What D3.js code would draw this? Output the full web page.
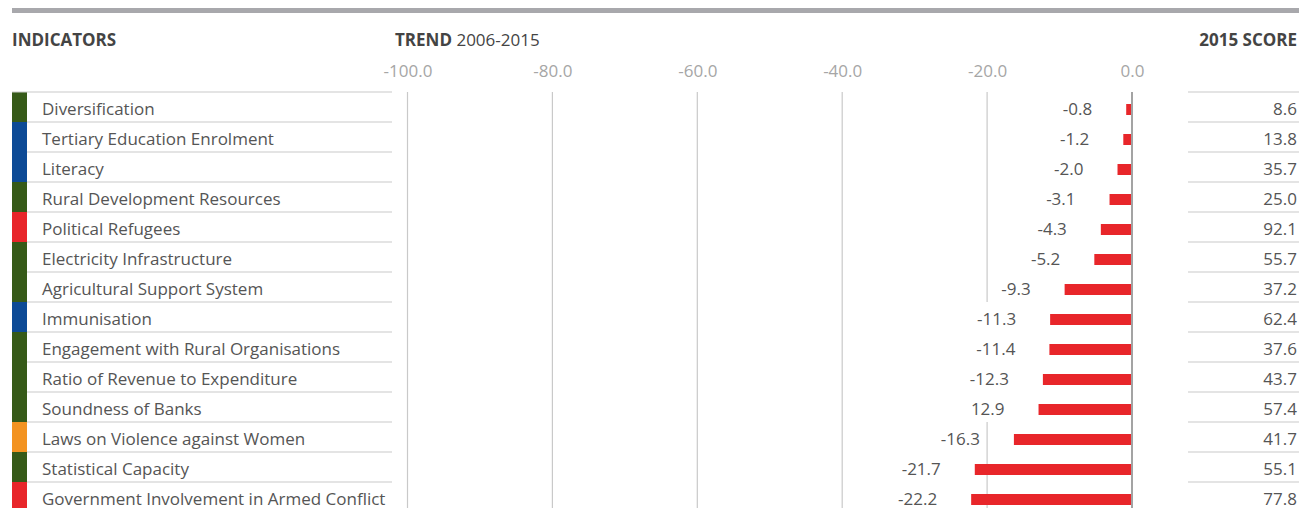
<!DOCTYPE html>
<html>
<head>
<meta charset="utf-8">
<script src="https://cdn.jsdelivr.net/npm/d3@7"></script>
<style>
  html, body { margin: 0; padding: 0; background: #fff; }
  svg { display: block; font-family: "Open Sans", sans-serif; }
</style>
</head>
<body>
<svg id="chart" width="1299" height="508"></svg>
<script>
// ---- data ----
const indicators = [
  "Diversification",
  "Tertiary Education Enrolment",
  "Literacy",
  "Rural Development Resources",
  "Political Refugees",
  "Electricity Infrastructure",
  "Agricultural Support System",
  "Immunisation",
  "Engagement with Rural Organisations",
  "Ratio of Revenue to Expenditure",
  "Soundness of Banks",
  "Laws on Violence against Women",
  "Statistical Capacity",
  "Government Involvement in Armed Conflict"
];
const categoryGroup = ["econ","human","human","econ","safety","econ","econ","human","econ","econ","econ","gender","econ","safety"];
const trendValues = [-0.8, -1.2, -2.0, -3.1, -4.3, -5.2, -9.3, -11.3, -11.4, -12.3, -12.9, -16.3, -21.7, -22.2];
const trendLabels = ["-0.8", "-1.2", "-2.0", "-3.1", "-4.3", "-5.2", "-9.3", "-11.3", "-11.4", "-12.3", "12.9", "-16.3", "-21.7", "-22.2"];
const scores2015 = ["8.6", "13.8", "35.7", "25.0", "92.1", "55.7", "37.2", "62.4", "37.6", "43.7", "57.4", "41.7", "55.1", "77.8"];
const tickValues = [-100, -80, -60, -40, -20, 0];
const tickLabels = ["-100.0", "-80.0", "-60.0", "-40.0", "-20.0", "0.0"];
const groupNames = ["econ", "human", "safety", "gender"];
const groupColors = ["#365a18", "#0c4a96", "#e8262a", "#f39321"];

// ---- layout ----
const svg = d3.select("#chart");
const W = 1299;
const rowTop = 92, rowH = 30;
const leftX0 = 12, stripW = 15, leftX1 = 392;
const rightX0 = 1188, rightX1 = 1299;
const textColor = "#555";
const lineColor = "#c9c9c9";
const fs = 17;

const x = d3.scaleLinear().domain([-100, 0]).range([407.5, 1132]);
const y = d3.scaleBand().domain(d3.range(indicators.length)).range([rowTop, rowTop + rowH * indicators.length]).padding(0);
const color = d3.scaleOrdinal().domain(groupNames).range(groupColors);

// top grey band
svg.append("rect").attr("x", leftX0).attr("y", 8).attr("width", W - leftX0).attr("height", 5).attr("fill", "#a8a8ac");

// headers
svg.append("text").attr("x", 12).attr("y", 46).attr("font-size", 17).attr("font-weight", 700)
  .attr("fill", "#444").text("INDICATORS");
const trendHead = svg.append("text").attr("x", 395).attr("y", 46).attr("font-size", 17).attr("fill", "#444");
trendHead.append("tspan").attr("font-weight", 700).text("TREND");
trendHead.append("tspan").text(" 2006-2015");
svg.append("text").attr("x", 1297).attr("y", 46).attr("font-size", 17).attr("font-weight", 700)
  .attr("fill", "#444").attr("text-anchor", "end").text("2015 SCORE");

// axis tick labels
const axis = d3.axisTop(x).tickValues(tickValues).tickSize(0).tickPadding(0)
  .tickFormat((d, i) => tickLabels[i]);
const axisG = svg.append("g").attr("transform", "translate(0,77)").call(axis);
axisG.select(".domain").remove();
axisG.selectAll("text").attr("font-size", 17).attr("fill", "#a6a6a6").attr("font-family", "Open Sans, sans-serif").attr("dy", 0);

// gridlines
const bottom = rowTop + rowH * indicators.length;
svg.append("g").selectAll("line").data(tickValues.filter(v => v !== 0)).join("line")
  .attr("x1", d => x(d)).attr("x2", d => x(d)).attr("y1", rowTop).attr("y2", bottom)
  .attr("stroke", lineColor).attr("stroke-width", 1.2);

// left column: strips, separators, labels
svg.append("g").selectAll("rect").data(indicators).join("rect")
  .attr("x", leftX0).attr("y", (d, i) => y(i)).attr("width", stripW).attr("height", y.bandwidth())
  .attr("fill", (d, i) => color(categoryGroup[i]));
svg.append("line").attr("x1", leftX0).attr("x2", leftX1).attr("y1", rowTop).attr("y2", rowTop).attr("stroke", lineColor).attr("stroke-width", 1.2);
svg.append("g").selectAll("line").data(indicators).join("line")
  .attr("x1", leftX0 + stripW).attr("x2", leftX1).attr("y1", (d, i) => y(i) + rowH).attr("y2", (d, i) => y(i) + rowH)
  .attr("stroke", lineColor).attr("stroke-width", 1.2);
svg.append("g").selectAll("text").data(indicators).join("text")
  .attr("x", 42).attr("y", (d, i) => y(i) + 22.5).attr("font-size", fs).attr("fill", textColor).text(d => d);

// right column: separators and scores
svg.append("line").attr("x1", rightX0).attr("x2", rightX1).attr("y1", rowTop).attr("y2", rowTop).attr("stroke", lineColor).attr("stroke-width", 1.2);
svg.append("g").selectAll("line").data(scores2015).join("line")
  .attr("x1", rightX0).attr("x2", rightX1).attr("y1", (d, i) => y(i) + rowH).attr("y2", (d, i) => y(i) + rowH)
  .attr("stroke", lineColor).attr("stroke-width", 1.2);
svg.append("g").selectAll("text").data(scores2015).join("text")
  .attr("x", 1297).attr("y", (d, i) => y(i) + 22.5).attr("text-anchor", "end").attr("font-size", fs).attr("fill", textColor).text(d => d);

// value labels with white backgrounds (mask the gridline behind them)
const labG = svg.append("g");
trendLabels.forEach((lab, i) => {
  const g = labG.append("g");
  const bg = g.append("rect").attr("fill", "#fff");
  const t = g.append("text").attr("x", x(trendValues[i]) - 34).attr("y", y(i) + 22.5)
    .attr("text-anchor", "end").attr("font-size", fs).attr("fill", textColor).text(lab);
  const w = t.node().getComputedTextLength();
  bg.attr("x", x(trendValues[i]) - 34 - w - 12).attr("y", y(i)).attr("width", w + 12).attr("height", rowH);
});

// bars
svg.append("g").selectAll("rect").data(trendValues).join("rect")
  .attr("x", d => x(d)).attr("width", d => x(0) - x(d))
  .attr("y", (d, i) => y(i) + 12).attr("height", 11)
  .attr("fill", "#e8262a");

// zero line
svg.append("line").attr("x1", x(0)).attr("x2", x(0)).attr("y1", rowTop).attr("y2", bottom)
  .attr("stroke", "#a3a3a3").attr("stroke-width", 2);
</script>
</body>
</html>
